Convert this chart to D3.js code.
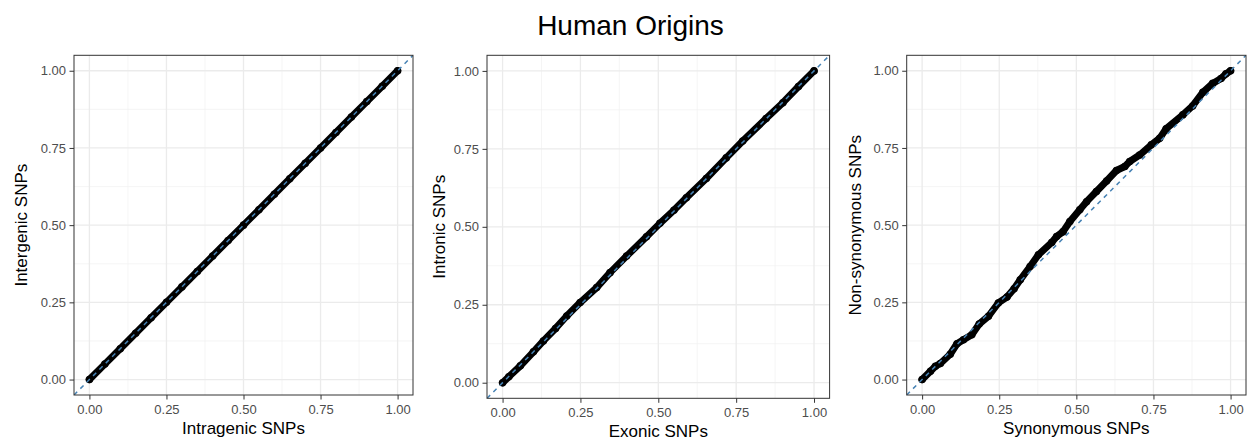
<!DOCTYPE html>
<html>
<head>
<meta charset="utf-8">
<script src="https://cdn.jsdelivr.net/npm/d3@7"></script>
<style>
  html, body { margin: 0; padding: 0; background: #fff; }
  svg { display: block; font-family: "Liberation Sans", Arial, Helvetica, sans-serif; }
</style>
</head>
<body>
<svg id="chart" width="1249" height="444"></svg>
<script>
// ---- data (quantile pairs) ----
const chartTitle = "Human Origins";
const tickValues = [0, 0.25, 0.5, 0.75, 1];
const minorTicks = [0.125, 0.375, 0.625, 0.875];

const intragenicQ = [0, 0.05, 0.10, 0.15, 0.20, 0.25, 0.30, 0.35, 0.40, 0.45, 0.50, 0.55, 0.60, 0.65, 0.70, 0.75, 0.80, 0.85, 0.90, 0.95, 1.00];
const intergenicQ = [0, 0.05, 0.10, 0.15, 0.20, 0.25, 0.30, 0.35, 0.40, 0.45, 0.50, 0.55, 0.60, 0.65, 0.70, 0.75, 0.80, 0.85, 0.90, 0.95, 1.00];

const exonicQ   = [0, 0.020, 0.057, 0.099, 0.131, 0.170, 0.206, 0.249, 0.302, 0.345, 0.398, 0.462, 0.505, 0.550, 0.590, 0.654, 0.718, 0.771, 0.846, 0.900, 0.950, 1.00];
const intronicQ = [0, 0.019, 0.054, 0.099, 0.134, 0.174, 0.214, 0.257, 0.305, 0.353, 0.406, 0.468, 0.511, 0.553, 0.593, 0.655, 0.721, 0.775, 0.847, 0.898, 0.950, 1.00];

const synonymousQ    = [0, 0.027, 0.043, 0.059, 0.091, 0.113, 0.134, 0.161, 0.185, 0.215, 0.247, 0.275, 0.298, 0.318, 0.350, 0.377, 0.420, 0.436, 0.457, 0.479, 0.511, 0.533, 0.565, 0.598, 0.630, 0.657, 0.673, 0.705, 0.743, 0.770, 0.791, 0.845, 0.877, 0.910, 0.942, 0.969, 0.985, 1.00];
const nonSynonymousQ = [0, 0.027, 0.043, 0.052, 0.082, 0.116, 0.129, 0.145, 0.180, 0.205, 0.248, 0.267, 0.294, 0.323, 0.366, 0.404, 0.444, 0.463, 0.479, 0.512, 0.550, 0.576, 0.609, 0.643, 0.677, 0.690, 0.706, 0.727, 0.760, 0.781, 0.812, 0.857, 0.886, 0.930, 0.959, 0.975, 0.990, 1.00];

const xTitles = ["Intragenic SNPs", "Exonic SNPs", "Synonymous SNPs"];
const yTitles = ["Intergenic SNPs", "Intronic SNPs", "Non-synonymous SNPs"];

// ---- layout ----
const panels = [
  { l: 74,    r: 413,    t: 55.3, b: 395,   yTitleX: 27.2,  xs: intragenicQ, ys: intergenicQ },
  { l: 487.0, r: 829.6,  t: 55.3, b: 398.3, yTitleX: 444.5, xs: exonicQ,     ys: intronicQ },
  { l: 906.7, r: 1246.0, t: 55.3, b: 395,   yTitleX: 860.5, xs: synonymousQ, ys: nonSynonymousQ }
];

const svg = d3.select("#chart");
svg.append("rect").attr("width", 1249).attr("height", 444).attr("fill", "#fff");

svg.append("text")
  .attr("x", 630.5).attr("y", 35)
  .attr("text-anchor", "middle")
  .attr("font-size", 28)
  .attr("fill", "#000")
  .text(chartTitle);

const fmt = d3.format(".2f");

panels.forEach((p, i) => {
  const x = d3.scaleLinear().domain([-0.05, 1.05]).range([p.l, p.r]);
  const y = d3.scaleLinear().domain([-0.05, 1.05]).range([p.b, p.t]);
  const g = svg.append("g");

  const clipId = "clip" + i;
  svg.append("clipPath").attr("id", clipId)
    .append("rect").attr("x", p.l).attr("y", p.t).attr("width", p.r - p.l).attr("height", p.b - p.t);

  // minor grid
  g.append("g").selectAll("line").data(minorTicks).join("line")
    .attr("x1", d => x(d)).attr("x2", d => x(d)).attr("y1", p.t).attr("y2", p.b)
    .attr("stroke", "#F0F0F0").attr("stroke-width", 0.7);
  g.append("g").selectAll("line").data(minorTicks).join("line")
    .attr("y1", d => y(d)).attr("y2", d => y(d)).attr("x1", p.l).attr("x2", p.r)
    .attr("stroke", "#F0F0F0").attr("stroke-width", 0.7);
  // major grid
  g.append("g").selectAll("line").data(tickValues).join("line")
    .attr("x1", d => x(d)).attr("x2", d => x(d)).attr("y1", p.t).attr("y2", p.b)
    .attr("stroke", "#EBEBEB").attr("stroke-width", 1.3);
  g.append("g").selectAll("line").data(tickValues).join("line")
    .attr("y1", d => y(d)).attr("y2", d => y(d)).attr("x1", p.l).attr("x2", p.r)
    .attr("stroke", "#EBEBEB").attr("stroke-width", 1.3);

  // points
  const pts = p.xs.map((v, k) => [v, p.ys[k]]);
  const plot = g.append("g").attr("clip-path", `url(#${clipId})`);
  plot.append("path")
    .attr("d", d3.line().x(d => x(d[0])).y(d => y(d[1])).curve(d3.curveLinear)(pts))
    .attr("fill", "none").attr("stroke", "#000").attr("stroke-width", 7)
    .attr("stroke-linejoin", "round").attr("stroke-linecap", "round");
  plot.selectAll("circle").data(pts).join("circle")
    .attr("cx", d => x(d[0])).attr("cy", d => y(d[1])).attr("r", 3.8)
    .attr("fill", "#000");

  // identity line
  plot.append("line")
    .attr("x1", x(-0.05)).attr("y1", y(-0.05)).attr("x2", x(1.05)).attr("y2", y(1.05))
    .attr("stroke", "#4682B4").attr("stroke-width", 1.5).attr("stroke-dasharray", "4.5,4.5");

  // border
  g.append("rect").attr("x", p.l).attr("y", p.t).attr("width", p.r - p.l).attr("height", p.b - p.t)
    .attr("fill", "none").attr("stroke", "#333333").attr("stroke-width", 1);

  // axes
  const xa = g.append("g").attr("transform", `translate(0,${p.b})`)
    .call(d3.axisBottom(x).tickValues(tickValues).tickFormat(fmt).tickSize(4.5).tickPadding(5.3).tickSizeOuter(0));
  const ya = g.append("g").attr("transform", `translate(${p.l},0)`)
    .call(d3.axisLeft(y).tickValues(tickValues).tickFormat(fmt).tickSize(4.5).tickPadding(3.5).tickSizeOuter(0));
  [xa, ya].forEach(a => {
    a.select(".domain").remove();
    a.selectAll(".tick line").attr("stroke", "#333333").attr("stroke-width", 1);
    a.selectAll(".tick text").attr("fill", "#4D4D4D").attr("font-size", 13)
      .attr("font-family", "'Liberation Sans', Arial, Helvetica, sans-serif");
  });

  // titles
  svg.append("text")
    .attr("x", (p.l + p.r) / 2).attr("y", p.b + 39)
    .attr("text-anchor", "middle").attr("font-size", 17).attr("fill", "#000")
    .text(xTitles[i]);
  svg.append("text")
    .attr("transform", `translate(${p.yTitleX},${(p.t + p.b) / 2}) rotate(-90)`)
    .attr("text-anchor", "middle").attr("font-size", 17).attr("fill", "#000")
    .text(yTitles[i]);
});
</script>
</body>
</html>
